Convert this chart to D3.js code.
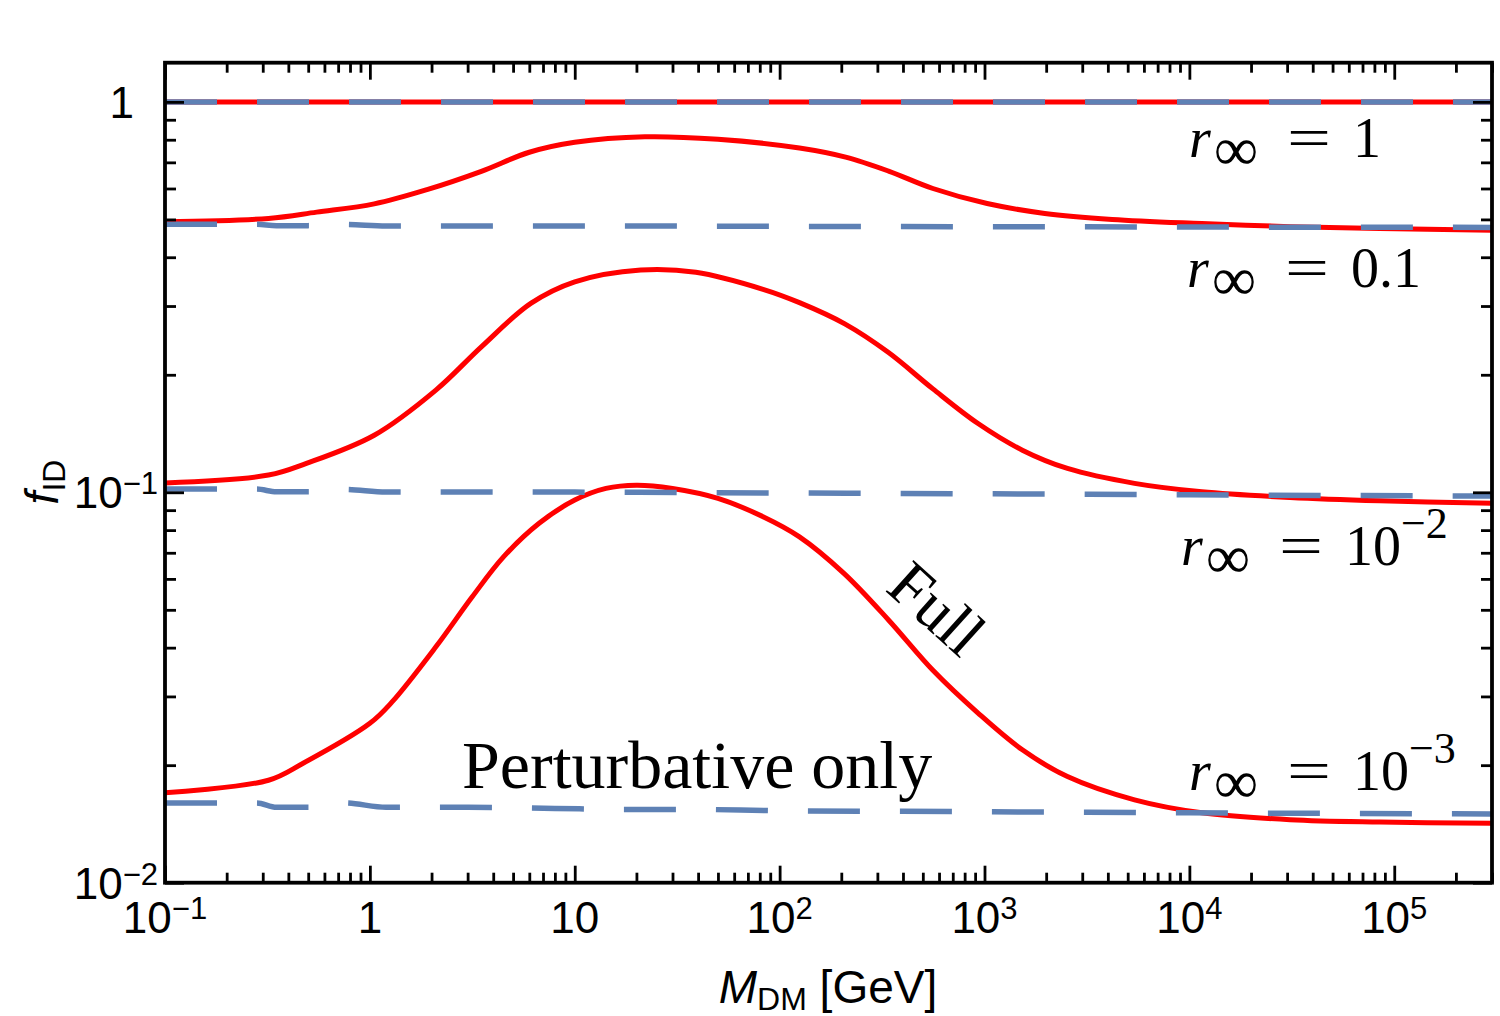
<!DOCTYPE html>
<html>
<head>
<meta charset="utf-8">
<script src="https://cdn.jsdelivr.net/npm/d3@7"></script>
<style>
  body { margin: 0; background: #fff; }
  svg { display: block; }
</style>
</head>
<body>
<script>
// values (mass in GeV, f_ID)
const xDomain = [0.1, 3e5];
const yDomain = [0.01, 1.26];

// r_inf = 1
const massR1 = [0.1, 3e5];
const fullR1 = [1, 1];
const pertR1 = [1, 1];

// r_inf = 0.1
const massFullR01 = [0.1, 0.32, 0.55, 1.05, 1.9, 3.5, 6, 10, 22, 50, 125, 210, 340, 560, 1030, 1970, 4200, 11500, 31000, 85000, 3e5];
const fullR01 = [0.493, 0.503, 0.522, 0.548, 0.596, 0.664, 0.743, 0.788, 0.814, 0.802, 0.762, 0.722, 0.665, 0.600, 0.549, 0.518, 0.500, 0.488, 0.479, 0.474, 0.469];
const massPertR01 = [0.1, 0.28, 0.35, 0.5, 0.75, 1.2, 10, 100, 1000, 1e4, 3e5];
const pertR01 = [0.486, 0.486, 0.482, 0.482, 0.485, 0.481, 0.481, 0.480, 0.479, 0.478, 0.477];

// r_inf = 0.01
const massFullR001 = [0.1, 0.32, 0.49, 1.05, 2.1, 3.5, 6.1, 10, 21, 39, 83, 125, 208, 340, 560, 930, 1530, 2540, 5400, 11500, 31000, 85000, 3e5];
const fullR001 = [0.1057, 0.1107, 0.1186, 0.140, 0.1827, 0.2358, 0.3046, 0.346, 0.371, 0.366, 0.331, 0.306, 0.270, 0.228, 0.184, 0.150, 0.1282, 0.1151, 0.1054, 0.1003, 0.0970, 0.0951, 0.0937];
const massPertR001 = [0.1, 0.28, 0.35, 0.5, 0.75, 1.2, 10, 100, 1000, 1e4, 3e5];
const pertR001 = [0.1019, 0.1019, 0.1003, 0.1003, 0.1017, 0.1002, 0.1001, 0.0996, 0.0991, 0.0985, 0.0978];

// r_inf = 0.001
const massFullR0001 = [0.1, 0.32, 0.47, 1.0, 1.28, 2.1, 3.16, 4.5, 6.7, 10, 14.2, 20, 30, 50, 83, 125, 206, 340, 560, 930, 1530, 2540, 5400, 11500, 31000, 85000, 3e5];
const fullR0001 = [0.0170, 0.0183, 0.0202, 0.0256, 0.0290, 0.0402, 0.0540, 0.0684, 0.0833, 0.0955, 0.1023, 0.1043, 0.1023, 0.0965, 0.0866, 0.0769, 0.0620, 0.0471, 0.0350, 0.0272, 0.0219, 0.0187, 0.0163, 0.0151, 0.0145, 0.0143, 0.0142];
const massPertR0001 = [0.1, 0.28, 0.35, 0.5, 0.75, 1.2, 3, 8, 17, 40, 90, 1000, 1e4, 3e5];
const pertR0001 = [0.0160, 0.0160, 0.0156, 0.0156, 0.0160, 0.0156, 0.0156, 0.0155, 0.0154, 0.0154, 0.0153, 0.0152, 0.0151, 0.0150];

// tick labels
const xTickValues = [0.1, 1, 10, 100, 1000, 1e4, 1e5];
const xTickBase = ["10", "1", "10", "10", "10", "10", "10"];
const xTickExp = ["\u22121", "", "", "2", "3", "4", "5"];
const yTickValues = [0.01, 0.1, 1];
const yTickBase = ["10", "10", "1"];
const yTickExp = ["\u22122", "\u22121", ""];

// r_inf labels
const rLabelBase = ["1", "0.1", "10", "10"];
const rLabelExp = ["", "", "\u22122", "\u22123"];

const w = 1500;
const h = 1016;
const plotLeft = 165, plotRight = 1492, plotTop = 62.7, plotBottom = 882.7;

const red = "#ff0000";
const blue = "#5e81b5";
const sans = "'Liberation Sans', Arial, Helvetica, sans-serif";
const serif = "'Liberation Serif', 'Times New Roman', serif";

const svg = d3.select("body")
  .append("svg")
  .attr("width", w)
  .attr("height", h);

svg.append("rect").attr("width", w).attr("height", h).attr("fill", "#fff");

const x = d3.scaleLog().domain(xDomain).range([plotLeft, plotRight]);
const y = d3.scaleLog().domain(yDomain).range([plotBottom, plotTop]);

svg.append("clipPath").attr("id", "plot")
  .append("rect")
  .attr("x", plotLeft).attr("y", plotTop)
  .attr("width", plotRight - plotLeft).attr("height", plotBottom - plotTop);

const smoothLine = d3.line()
  .x(d => x(d[0]))
  .y(d => y(d[1]))
  .curve(d3.curveCatmullRom.alpha(0.5));

const stepLine = d3.line()
  .x(d => x(d[0]))
  .y(d => y(d[1]))
  .curve(d3.curveMonotoneX);

const fullCurves = [
  d3.zip(massR1, fullR1),
  d3.zip(massFullR01, fullR01),
  d3.zip(massFullR001, fullR001),
  d3.zip(massFullR0001, fullR0001)
];
const pertCurves = [
  d3.zip(massR1, pertR1),
  d3.zip(massPertR01, pertR01),
  d3.zip(massPertR001, pertR001),
  d3.zip(massPertR0001, pertR0001)
];

const curves = svg.append("g").attr("clip-path", "url(#plot)");

// full result: solid red
curves.selectAll("path.full")
  .data(fullCurves)
  .enter()
  .append("path")
  .attr("class", "full")
  .attr("d", smoothLine)
  .attr("fill", "none")
  .attr("stroke", red)
  .attr("stroke-width", 5);

// perturbative only: dashed blue, drawn on top
curves.selectAll("path.pert")
  .data(pertCurves)
  .enter()
  .append("path")
  .attr("class", "pert")
  .attr("d", stepLine)
  .attr("fill", "none")
  .attr("stroke", blue)
  .attr("stroke-width", 5.5)
  .attr("stroke-dasharray", "52,40");

// ticks (inward on all four sides)
const isDecade = v => {
  const l = Math.log10(v);
  return Math.abs(l - Math.round(l)) < 1e-6;
};
const xMajor = x.ticks().filter(isDecade);
const xMinor = x.ticks().filter(v => !isDecade(v));
const yMajor = y.ticks().filter(isDecade);
const yMinor = y.ticks().filter(v => !isDecade(v));

function tickAxis(axis, values, size, tx, ty) {
  svg.append("g")
    .attr("transform", `translate(${tx},${ty})`)
    .call(axis.tickValues(values).tickSize(-size).tickFormat(""))
    .call(g => g.select(".domain").remove())
    .call(g => g.selectAll("line").attr("stroke", "#000").attr("stroke-width", 2.8));
}
tickAxis(d3.axisBottom(x), xMajor, 17, 0, plotBottom);
tickAxis(d3.axisBottom(x), xMinor, 10, 0, plotBottom);
tickAxis(d3.axisTop(x), xMajor, 17, 0, plotTop);
tickAxis(d3.axisTop(x), xMinor, 10, 0, plotTop);
tickAxis(d3.axisLeft(y), yMajor, 19, plotLeft, 0);
tickAxis(d3.axisLeft(y), yMinor, 11, plotLeft, 0);
tickAxis(d3.axisRight(y), yMajor, 19, plotRight, 0);
tickAxis(d3.axisRight(y), yMinor, 11, plotRight, 0);

// frame
svg.append("rect")
  .attr("x", plotLeft).attr("y", plotTop)
  .attr("width", plotRight - plotLeft).attr("height", plotBottom - plotTop)
  .attr("fill", "none")
  .attr("stroke", "#000")
  .attr("stroke-width", 3.8);

// sans label with optional superscript
function powerLabel(px, py, base, exp, anchor) {
  const t = svg.append("text")
    .attr("x", px).attr("y", py)
    .attr("text-anchor", anchor)
    .attr("font-family", sans)
    .attr("font-size", 44)
    .attr("fill", "#000");
  t.append("tspan").text(base);
  if (exp) t.append("tspan").attr("dy", -14).attr("font-size", 31).text(exp);
}

xTickValues.forEach((v, i) => powerLabel(x(v), plotBottom + 50, xTickBase[i], xTickExp[i], "middle"));
yTickValues.forEach((v, i) => powerLabel(yTickExp[i] ? 158 : 134, y(v) + 16, yTickBase[i], yTickExp[i], "end"));

// axis titles
const xt = svg.append("text")
  .attr("x", 828).attr("y", 1003)
  .attr("text-anchor", "middle")
  .attr("font-family", sans)
  .attr("font-size", 46);
xt.append("tspan").attr("font-style", "italic").text("M");
xt.append("tspan").attr("font-size", 32).attr("dy", 7).text("DM");
xt.append("tspan").attr("dy", -7).text(" [GeV]");

const yt = svg.append("text")
  .attr("transform", "translate(58,482) rotate(-90)")
  .attr("text-anchor", "middle")
  .attr("font-family", sans)
  .attr("font-size", 46);
yt.append("tspan").attr("font-style", "italic").text("f");
yt.append("tspan").attr("font-size", 32).attr("dy", 7).text("ID");

// r_inf labels: [left x, baseline y]
const rLabelPos = [[1189, 157], [1187, 287], [1181, 565], [1189, 790]];
rLabelPos.forEach((p, i) => {
  const g = svg.append("g").attr("font-family", serif).attr("fill", "#000");
  g.append("text").attr("x", p[0]).attr("y", p[1])
    .attr("font-size", 56).attr("font-style", "italic").text("r");
  g.append("text").attr("x", p[0] + 25).attr("y", p[1] + 13)
    .attr("font-size", 62).text("\u221e");
  g.append("text").attr("x", p[0] + 98).attr("y", p[1])
    .attr("font-size", 58)
    .attr("textLength", 44).attr("lengthAdjust", "spacingAndGlyphs")
    .text("=");
  const v = g.append("text").attr("x", p[0] + 164).attr("y", p[1]).attr("font-size", 56);
  v.append("tspan").text(rLabelBase[i]);
  if (rLabelExp[i]) v.append("tspan").attr("dy", -27).attr("font-size", 44).text(rLabelExp[i]);
});

// curve annotations
svg.append("text")
  .attr("x", 462).attr("y", 788)
  .attr("font-family", serif)
  .attr("font-size", 68)
  .text("Perturbative only");

svg.append("text")
  .attr("transform", "translate(884,590) rotate(42)")
  .attr("font-family", serif)
  .attr("font-size", 64)
  .text("Full");
</script>
</body>
</html>
